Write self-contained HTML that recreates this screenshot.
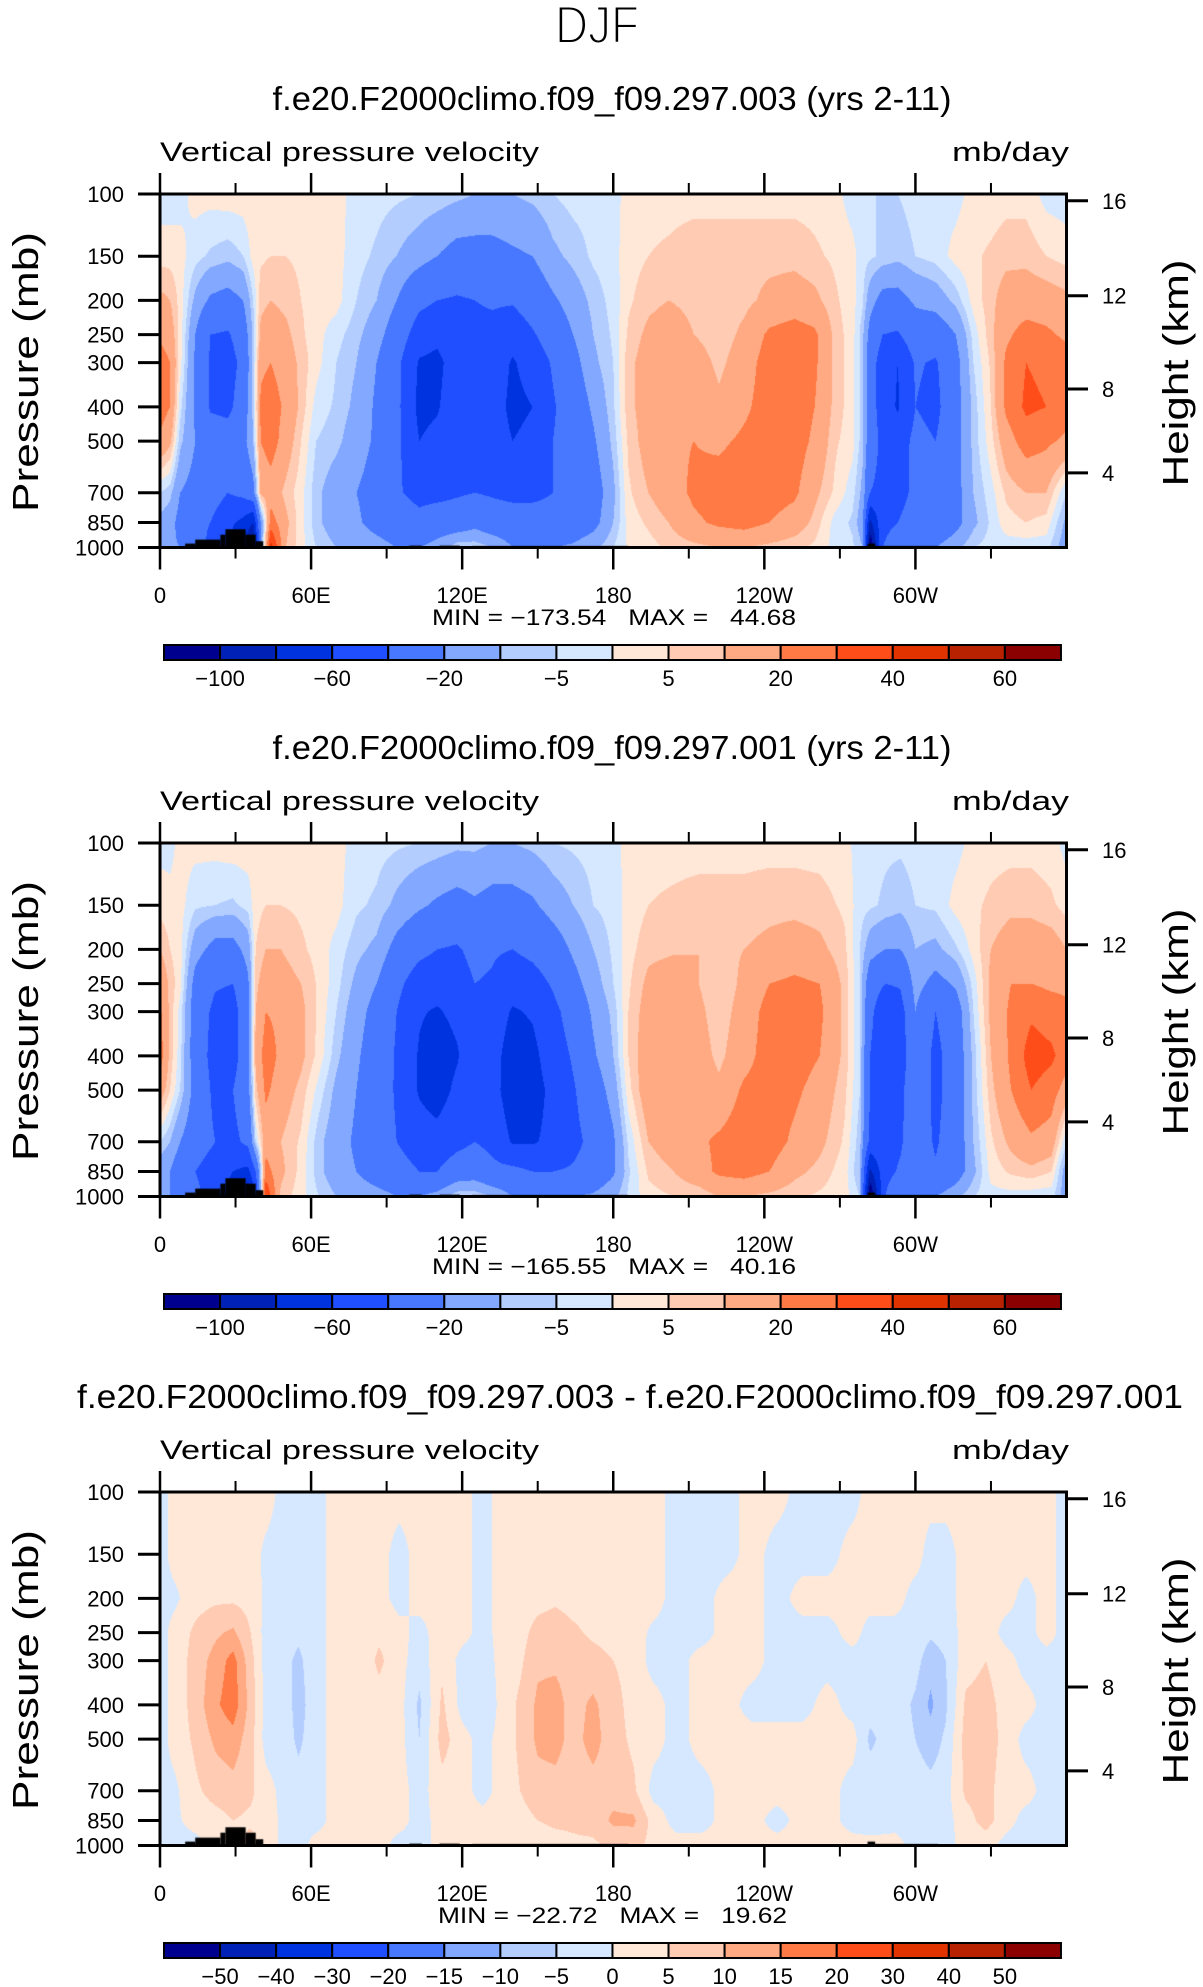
<!DOCTYPE html>
<html><head><meta charset="utf-8">
<style>
html,body{margin:0;padding:0;background:#fff;}
#wrap{position:relative;width:1203px;height:1987px;overflow:hidden;font-family:"Liberation Sans",sans-serif;}
canvas{position:absolute;}
svg{position:absolute;left:0;top:0;}
.pre{white-space:pre;}
</style></head>
<body>
<div id="wrap">
<canvas id="c0" width="907" height="354" style="left:160px;top:194px"></canvas>
<canvas id="c1" width="907" height="354" style="left:160px;top:843px"></canvas>
<canvas id="c2" width="907" height="354" style="left:160px;top:1492px"></canvas>
<svg id="s" width="1203" height="1987" xmlns="http://www.w3.org/2000/svg">
<text x="597" y="43" font-size="53" text-anchor="middle" textLength="84" lengthAdjust="spacingAndGlyphs" stroke="#fff" stroke-width="2">DJF</text>
</svg>
</div>
<script>
// ---- shared grid data ----
const pressures = [100,150,200,250,300,400,500,700,850,1000];
const pTicks = [100,150,200,250,300,400,500,700,850,1000];
const heightLabels = ["16","12","8","4"];
const heightP = [104.5,194,356,615];
const lonMajor = [0,60,120,180,240,300];
const lonMajorLabels = ["0","60E","120E","180","120W","60W"];
const lonMinor = [30,90,150,210,270,330];
const topo = [[10,14,975],[14,24,950],[24,26,920],[26,34,888],[34,38,920],[38,41,960],[99,104,988],[111,119,988],[124,186,990],[281,284,975],[284,309,990]];
const colors = ["#00008f","#0021b5","#0033e0","#1f4fff","#4778ff","#82a8ff","#b4cdff","#d5e8ff","#ffe8d8","#ffcbb3","#ffaa82","#ff7a45","#ff4d1a","#e03300","#b82200","#8b0000"];
const levelsAbs = [-100,-80,-60,-40,-20,-10,-5,0,5,10,20,30,40,50,60];
const levelsDiff = [-50,-40,-30,-20,-15,-10,-5,0,5,10,15,20,30,40,50];
const labelsAbs = ["\u2212100","","\u221260","","\u221220","","\u22125","","5","","20","","40","","60"];
const labelsDiff = ["\u221250","\u221240","\u221230","\u221220","\u221215","\u221210","\u22125","0","5","10","15","20","30","40","50"];
const titles = ["f.e20.F2000climo.f09_f09.297.003 (yrs 2-11)","f.e20.F2000climo.f09_f09.297.001 (yrs 2-11)","f.e20.F2000climo.f09_f09.297.003 - f.e20.F2000climo.f09_f09.297.001"];
const minmax = ["MIN = \u2212173.54   MAX =   44.68","MIN = \u2212165.55   MAX =   40.16","MIN = \u221222.72   MAX =   19.62"];

// ---- panel 1 ----
const lons1 = [0,4,8,14,20,27,33,37,40,44,50,56,62,70,78,86,94,103,110,118,125,132,140,148,156,164,172,180,186,194,202,212,222,232,242,252,260,268,275,279,282,287,293,300,308,316,323,330,336,344,352,360];
const vals1 = [
[-3,3,12,18,25,25,18,-5,-12,-15],[-3,3,10,15,20,20,12,-8,-15,-18],[-2,2,3,3,2,-3,-8,-20,-25,-20],[2,-3,-12,-20,-22,-22,-20,-25,-35,-30],
[2,-6,-22,-40,-42,-42,-30,-30,-40,-45],[3,-8,-25,-42,-48,-45,-30,-40,-55,-60],[3,-5,-20,-30,-35,-30,-25,-35,-65,-80],[3,2,-5,-8,-8,-8,-10,-25,-80,-110],
[3,4,8,12,18,22,20,12,-20,-20],[3,5,10,15,20,25,25,15,25,45],[3,5,8,12,15,18,15,8,12,10],[2,4,5,6,8,8,5,2,2,2],
[2,3,3,2,2,-2,-5,-8,-8,-5],[2,2,2,-3,-5,-6,-8,-15,-15,-10],[-2,-3,-5,-8,-10,-12,-15,-20,-18,-12],[-3,-6,-10,-15,-20,-22,-22,-25,-25,-15],
[-4,-10,-20,-28,-35,-35,-35,-38,-30,-20],[-5,-15,-35,-50,-62,-65,-60,-45,-35,-20],[-6,-20,-40,-55,-65,-62,-55,-45,-30,-15],[-8,-25,-42,-50,-50,-48,-45,-42,-30,-5],
[-10,-25,-40,-45,-42,-42,-45,-40,-25,-5],[-10,-25,-38,-45,-48,-50,-50,-42,-30,-10],[-10,-22,-38,-52,-62,-65,-60,-45,-30,-20],[-8,-20,-30,-42,-52,-60,-55,-45,-30,-20],
[-5,-12,-22,-30,-38,-42,-40,-40,-32,-20],[-3,-8,-15,-20,-25,-30,-32,-35,-30,-18],[-3,-4,-8,-10,-12,-18,-22,-28,-25,-12],[-2,-2,-3,-4,-5,-6,-8,-12,-10,-5],
[2,3,4,6,8,8,6,4,2,1],[3,5,8,12,14,14,14,10,6,3],[3,6,10,15,18,18,18,15,10,6],[3,8,8,10,15,18,20,22,18,8],
[3,8,6,6,8,12,18,25,22,10],[3,8,8,12,15,18,22,28,24,10],[3,8,12,22,25,25,25,25,20,8],[3,8,14,25,26,26,25,22,15,6],
[3,6,12,22,22,20,18,12,8,4],[2,4,6,8,8,8,6,4,-2,-2],[-3,2,2,2,2,2,2,-3,-6,-4],[-4,-3,-4,-8,-8,-8,-8,-12,-15,-10],
[-5,-4,-15,-25,-30,-30,-30,-40,-85,-120],[-5,-6,-25,-40,-50,-50,-45,-45,-45,-40],[-5,-8,-25,-42,-60,-62,-50,-48,-40,-30],[-3,-5,-18,-28,-38,-40,-35,-35,-30,-20],
[-2,-3,-15,-30,-42,-45,-40,-40,-35,-20],[-2,2,-8,-20,-25,-25,-25,-25,-25,-12],[2,4,2,-3,-5,-8,-8,-10,-12,-5],[2,6,8,8,6,5,3,-2,-4,-3],
[3,8,14,18,22,22,15,6,3,-3],[3,8,15,24,30,32,25,10,5,-3],[-2,5,14,22,28,30,22,10,3,-3],[-3,3,12,18,25,25,18,-5,-12,-15]];

// ---- panel 2 ----
const lons2 = [0,4,8,14,22,29,35,38,42,48,56,63,70,78,86,94,103,110,118,125,132,140,148,156,164,172,180,186,194,204,214,222,232,242,252,262,272,278,282,288,294,300,308,316,323,330,338,346,354,360];
const vals2 = [
[-2,3,10,18,22,25,15,-5,-15,-15],[-2,2,5,8,8,8,5,-10,-20,-20],[2,2,2,2,-2,-3,-5,-20,-30,-25],[2,-4,-15,-25,-28,-28,-25,-30,-40,-35],
[2,-5,-25,-38,-45,-48,-45,-40,-50,-50],[3,-6,-25,-40,-48,-48,-40,-45,-60,-70],[3,-3,-15,-22,-25,-25,-25,-35,-65,-100],[3,3,5,8,10,12,8,-5,-40,-60],
[3,5,10,15,20,25,22,15,25,40],[3,5,10,14,18,18,15,10,12,8],[2,4,6,10,12,12,8,4,3,2],[2,3,3,4,4,3,-2,-8,-8,-5],
[2,2,-2,-3,-5,-8,-12,-15,-15,-10],[-2,-4,-8,-12,-15,-18,-20,-22,-20,-12],[-3,-6,-12,-20,-25,-28,-30,-30,-28,-15],[-4,-12,-25,-35,-40,-42,-42,-40,-32,-20],
[-5,-18,-35,-50,-58,-62,-62,-50,-40,-20],[-6,-22,-40,-52,-62,-72,-70,-52,-40,-15],[-8,-25,-42,-48,-55,-62,-55,-45,-30,-5],[-8,-22,-35,-40,-42,-45,-45,-40,-28,-5],
[-10,-25,-38,-42,-48,-52,-52,-45,-35,-10],[-10,-25,-40,-52,-62,-70,-72,-62,-35,-20],[-8,-22,-35,-48,-58,-65,-68,-62,-40,-20],[-5,-15,-28,-38,-45,-50,-55,-55,-40,-20],
[-4,-10,-18,-25,-32,-38,-42,-45,-38,-20],[-3,-5,-10,-14,-18,-22,-28,-35,-32,-18],[-2,-3,-4,-5,-8,-10,-15,-22,-22,-12],[2,2,3,4,5,5,3,-4,-6,-4],
[3,5,8,12,14,16,16,10,6,3],[3,6,9,15,18,18,18,15,10,5],[3,7,10,10,12,14,16,18,16,6],[3,7,8,5,6,8,12,22,22,10],
[3,7,10,12,14,16,22,26,24,10],[3,8,12,20,24,25,25,25,20,8],[3,8,14,22,24,25,22,18,12,6],[3,7,12,20,22,20,16,12,8,4],
[2,4,6,8,8,8,6,4,2,2],[-3,-3,-5,-5,-5,-5,-5,-8,-10,-5],[-3,-4,-15,-30,-35,-40,-40,-45,-85,-120],[-4,-6,-20,-40,-55,-58,-50,-45,-45,-40],
[-4,-8,-20,-38,-48,-50,-45,-42,-38,-25],[-3,-5,-10,-15,-20,-25,-25,-30,-30,-20],[-3,-4,-12,-25,-40,-45,-45,-42,-38,-20],[-2,2,-6,-18,-28,-30,-30,-30,-28,-12],
[2,4,2,-3,-5,-8,-8,-10,-12,-5],[3,6,10,12,12,10,8,4,2,-2],[3,8,15,20,22,22,20,12,6,-2],[3,8,15,20,28,35,30,18,8,-3],
[2,6,14,18,25,32,25,15,5,-3],[-2,3,10,18,22,25,15,-5,-15,-15]];

// ---- panel 3 (difference) ----
const lons3 = [0,6,14,22,29,36,42,50,55,62,70,80,87,95,103,112,120,128,136,143,150,157,164,172,180,188,196,205,215,225,235,245,255,265,275,282,292,300,306,312,320,328,336,344,352,360];
const vals3 = [
[-2,-2,-2,-2,-2,-2,-2,-2,-2,-2],[2,2,-1,2,2,2,2,-1,-1,-2],[2,2,3,6,7,7,6,4,2,-2],[2,2,4,9,12,14,11,7,3,2],
[2,2,4,11,17,18,13,8,5,2],[2,2,3,5,7,8,7,6,4,7],[2,-1,-1,-2,-2,-2,-2,2,3,3],[-2,-2,-2,-3,-4,-3,-3,-2,-2,-2],
[-2,-2,-2,-4,-6,-7,-6,-3,-2,-2],[-2,-2,-2,-2,-2,-2,-2,-2,-2,2],[2,2,2,2,2,2,2,2,2,2],[2,2,2,2,2,2,2,2,2,2],
[2,2,2,4,6,3,2,2,2,2],[2,-2,-2,2,2,2,2,2,2,-2],[2,2,2,-2,-3,-6,-5,-2,-2,-2],[2,2,2,3,4,6,7,3,2,2],
[2,2,2,2,-2,-2,2,2,2,2],[-2,-2,-2,-2,-3,-5,-2,-2,2,2],[2,2,2,2,2,2,2,2,2,2],[2,2,2,3,4,6,6,5,3,2],
[2,2,3,7,9,11,11,8,5,2],[2,2,4,8,9,12,12,8,6,3],[2,2,3,6,8,8,8,7,6,4],[2,2,3,4,7,11,12,8,7,4],
[2,2,2,3,5,7,7,8,11,6],[2,2,2,2,3,3,4,6,11,7],[2,2,2,-1,-2,2,2,-2,3,3],[-2,-2,-2,-2,-2,-2,-2,-2,-2,2],
[-2,-2,-2,-2,2,2,2,-2,-2,2],[-2,-2,2,2,2,2,2,2,2,2],[2,2,2,2,2,-2,2,2,2,2],[2,-2,-2,-2,-2,-2,2,2,-2,2],
[-2,-2,2,-2,-2,-2,2,2,2,2],[-2,-2,2,-2,-2,2,2,2,2,2],[-2,2,2,2,-2,-2,2,-2,-2,2],[2,2,2,-2,-2,-3,-6,-2,-3,2],
[2,2,2,-2,-2,-2,-2,-2,-2,2],[2,2,-2,-2,-3,-6,-5,-2,-3,-2],[2,-2,-2,-4,-8,-11,-8,-3,-4,-2],[2,-2,-2,-3,-5,-6,-4,-2,-2,-2],
[2,2,2,2,3,6,7,6,3,2],[2,2,2,3,5,7,8,7,7,2],[2,2,2,-2,2,3,3,2,2,-2],[2,2,-2,-2,-2,2,-2,2,-2,-2],
[2,2,2,2,-2,-2,-2,-2,-2,-2],[-2,-2,-2,-2,-2,-2,-2,-2,-2,-2]];

// ---- geometry ----
const PL=160, PW=906.5, PH=353.5, PTOP=194, DY=649;
function xLon(lon){return PL+lon*PW/360;}
function yP(p,t){return t+(Math.log10(p)-2)*PH;}
const rgb = colors.map(h=>[parseInt(h.substr(1,2),16),parseInt(h.substr(3,2),16),parseInt(h.substr(5,2),16)]);
function levIdx(v,lev){let k=0;while(k<lev.length&&v>=lev[k])k++;return k;}

function drawField(cv, lons, vals, lev){
  const ctx=cv.getContext('2d');const W=cv.width,H=cv.height;
  const img=ctx.createImageData(W,H);const d=img.data;
  const lp=pressures.map(p=>Math.log10(p));
  const colI=[],colF=[];
  for(let x=0;x<W;x++){const lon=(x+0.5)*360/PW;let i=0;while(i<lons.length-2&&lon>lons[i+1])i++;
    colI.push(i);colF.push(Math.min(1,Math.max(0,(lon-lons[i])/(lons[i+1]-lons[i]))));}
  for(let y=0;y<H;y++){const l=2+(y+0.5)/PH;let j=0;while(j<lp.length-2&&l>lp[j+1])j++;
    const fy=Math.min(1,Math.max(0,(l-lp[j])/(lp[j+1]-lp[j])));
    for(let x=0;x<W;x++){const i=colI[x],fx=colF[x];
      const a=vals[i][j]*(1-fx)+vals[i+1][j]*fx, b=vals[i][j+1]*(1-fx)+vals[i+1][j+1]*fx;
      const v=a*(1-fy)+b*fy;const c=rgb[levIdx(v,lev)];const o=(y*W+x)*4;
      d[o]=c[0];d[o+1]=c[1];d[o+2]=c[2];d[o+3]=255;}}
  ctx.putImageData(img,0,0);
  ctx.fillStyle='#000';
  topo.forEach(t=>{const x0=t[0]*PW/360,x1=t[1]*PW/360,y0=(Math.log10(t[2])-2)*PH;ctx.fillRect(x0,y0,x1-x0,H-y0);});
}
drawField(document.getElementById('c0'),lons1,vals1,levelsAbs);
drawField(document.getElementById('c1'),lons2,vals2,levelsAbs);
drawField(document.getElementById('c2'),lons3,vals3,levelsDiff);

const NS="http://www.w3.org/2000/svg";const svg=document.getElementById('s');
function el(tag,attrs,txt){const e=document.createElementNS(NS,tag);for(const k in attrs)e.setAttribute(k,attrs[k]);if(txt!==undefined)e.textContent=txt;svg.appendChild(e);return e;}
function line(x1,y1,x2,y2,w){return el('line',{x1:x1,y1:y1,x2:x2,y2:y2,stroke:'#000','stroke-width':w});}

for(let k=0;k<3;k++){
  const T=PTOP+k*DY, B=T+PH, o=k*DY;
  const tl=el('text',{x:k==2?630:612,y:110+o,'font-size':33,'text-anchor':'middle',textLength:k==2?1106:679,lengthAdjust:'spacingAndGlyphs'},titles[k]);
  
  
  const lt=el('text',{x:160,y:161+o,'font-size':27,textLength:379,lengthAdjust:'spacingAndGlyphs'},"Vertical pressure velocity");
  
  
  const un=el('text',{x:1069,y:161+o,'font-size':27,'text-anchor':'end',textLength:117,lengthAdjust:'spacingAndGlyphs'},"mb/day");
  
  
  pTicks.forEach(p=>{const y=yP(p,T);const tk=line(138,y,160,y,3);
    
    
    const tx=el('text',{x:124,y:y+8,'font-size':22,'text-anchor':'end'},String(p));
    
    });
  heightP.forEach((p,i)=>{const y=yP(p,T);const tk=line(1066,y,1088,y,3);
    
    
    const tx=el('text',{x:1102,y:y+8,'font-size':22},heightLabels[i]);
    
    });
  lonMajor.forEach((lon,i)=>{const x=xLon(lon);
    const a=line(x,T-21,x,T,2.5);
    const b=line(x,B,x,B+22,2.5);
    const tx=el('text',{x:x,y:603+o,'font-size':22,'text-anchor':'middle'},lonMajorLabels[i]);
    
    });
  lonMinor.forEach(lon=>{const x=xLon(lon);
    const a=line(x,T-11,x,T,2);
    const b=line(x,B,x,B+11,2);});
  const fr=el('rect',{x:PL,y:T,width:PW,height:PH,fill:'none',stroke:'#000','stroke-width':3});
  
  
  const yl=el('text',{x:0,y:0,'font-size':36,'text-anchor':'middle',textLength:280,lengthAdjust:'spacingAndGlyphs',transform:'translate(38,'+(372+o)+') rotate(-90)'},"Pressure (mb)");
  
  
  const yr=el('text',{x:0,y:0,'font-size':36,'text-anchor':'middle',textLength:227,lengthAdjust:'spacingAndGlyphs',transform:'translate(1188,'+(373+o)+') rotate(-90)'},"Height (km)");
  
  
  const mm=el('text',{x:k==2?438:432,y:625+o,'font-size':22,'class':'pre',textLength:k==2?349:364,lengthAdjust:'spacingAndGlyphs'},minmax[k]);
  
  
  const bw=56.06, cy=645+o;
  colors.forEach((c,i)=>{const r=el('rect',{x:164+i*bw,y:cy,width:bw,height:15,fill:c,stroke:'#000','stroke-width':2});
    
    });
  const labs=k==2?labelsDiff:labelsAbs;
  labs.forEach((s,i)=>{if(!s)return;const tx=el('text',{x:164+(i+1)*bw,y:686+o,'font-size':22,'text-anchor':'middle'},s);
    
    });
}
</script>
</body></html>
